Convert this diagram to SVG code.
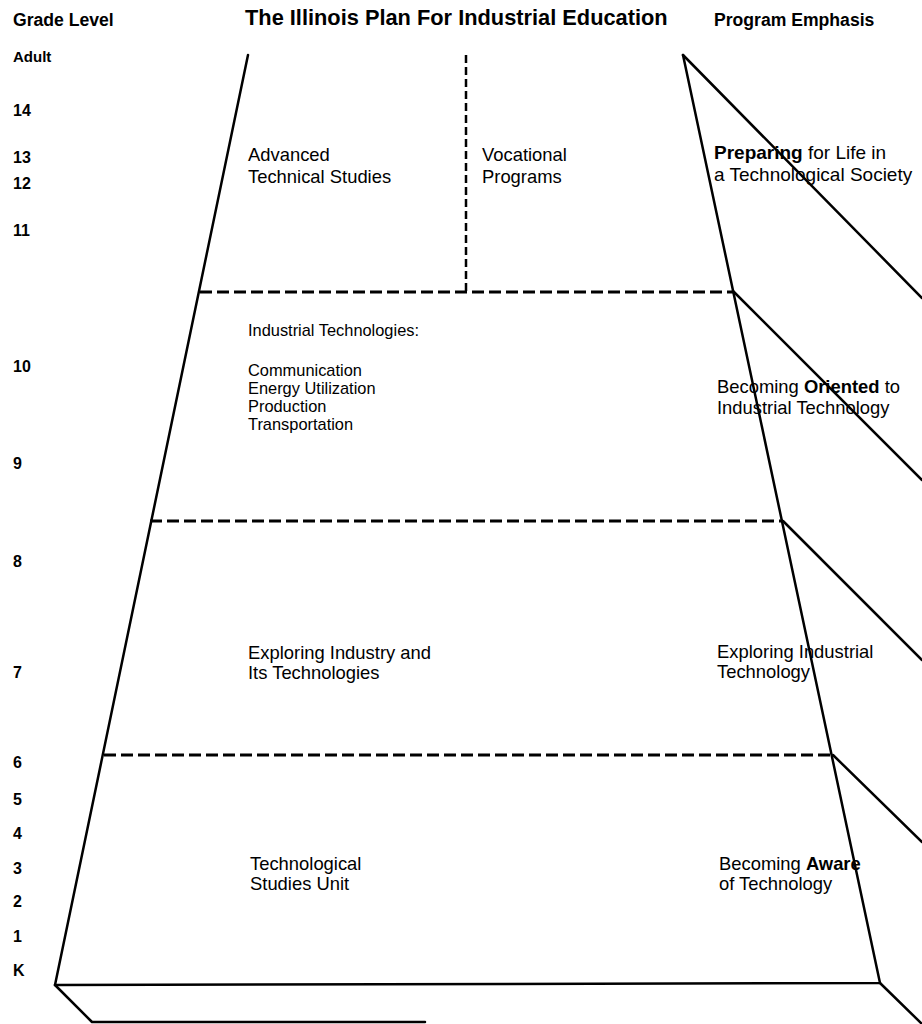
<svg xmlns="http://www.w3.org/2000/svg" width="922" height="1024" viewBox="0 0 922 1024">
<style>
text{font-family:"Liberation Sans",Arial,sans-serif;fill:#000}
.hd{font-weight:bold;font-size:17.6px}
.title{font-weight:bold;font-size:21.8px}
.gr{font-weight:bold;font-size:16px}
.ad{font-size:15px;font-weight:600}
.lb{font-size:18.4px}
.rb{font-size:19px}
.ls{font-size:16.4px}
.b{font-weight:bold}
.solid{stroke:#000;stroke-width:2.5;fill:none;stroke-linecap:round;stroke-linejoin:round}
.dash{stroke:#000;stroke-width:3;fill:none;stroke-dasharray:12 5}
.vdash{stroke:#000;stroke-width:2.5;fill:none;stroke-dasharray:8 4}
</style>
<rect width="922" height="1024" fill="#fff"/>
<g id="header">
<text class="hd" x="13" y="26">Grade Level</text>
<text class="title" x="245" y="25">The Illinois Plan For Industrial Education</text>
<text class="hd" x="714" y="26">Program Emphasis</text>
</g>
<g id="grade-levels">
<text class="ad" x="13" y="62">Adult</text>
<text class="gr" x="13" y="116">14</text>
<text class="gr" x="13" y="163">13</text>
<text class="gr" x="13" y="189">12</text>
<text class="gr" x="13" y="236">11</text>
<text class="gr" x="13" y="372">10</text>
<text class="gr" x="13" y="469">9</text>
<text class="gr" x="13" y="567">8</text>
<text class="gr" x="13" y="678">7</text>
<text class="gr" x="13" y="768">6</text>
<text class="gr" x="13" y="805">5</text>
<text class="gr" x="13" y="839">4</text>
<text class="gr" x="13" y="874">3</text>
<text class="gr" x="13" y="907">2</text>
<text class="gr" x="13" y="942">1</text>
<text class="gr" x="13" y="976">K</text>
</g>
<g id="connectors">
<path class="solid" d="M248 55 L55 985 L880 983 L683 55"/>
<path class="solid" d="M55 985 L92 1022 L425 1022"/>
<path class="solid" d="M683 55 L922 298"/>
<path class="solid" d="M733 291 L922 480"/>
<path class="solid" d="M783 521 L922 660"/>
<path class="solid" d="M833 755 L922 842"/>
<path class="solid" d="M880 983 L922 1024"/>
<path class="dash" d="M200 292 L733 292"/>
<path class="dash" d="M150 521 L783 521"/>
<path class="dash" d="M104 755 L833 755"/>
<path class="vdash" d="M466 55 L466 292"/>
</g>
<g id="advanced-technical-studies">
<text class="lb" x="248" y="161">Advanced</text>
<text class="lb" x="248" y="183">Technical Studies</text>
</g>
<g id="vocational-programs">
<text class="lb" x="482" y="161">Vocational</text>
<text class="lb" x="482" y="183">Programs</text>
</g>
<g id="preparing-for-life">
<text class="rb" x="714" y="159"><tspan class="b">Preparing</tspan> for Life in</text>
<text class="rb" x="714" y="181">a Technological Society</text>
</g>
<g id="industrial-technologies">
<text class="ls" x="248" y="336">Industrial Technologies:</text>
<text class="ls" x="248" y="376">Communication</text>
<text class="ls" x="248" y="394">Energy Utilization</text>
<text class="ls" x="248" y="412">Production</text>
<text class="ls" x="248" y="430">Transportation</text>
</g>
<g id="becoming-oriented">
<text class="lb" x="717" y="393">Becoming <tspan class="b">Oriented</tspan> to</text>
<text class="lb" x="717" y="414">Industrial Technology</text>
</g>
<g id="exploring-industry">
<text class="lb" x="248" y="659">Exploring Industry and</text>
<text class="lb" x="248" y="679">Its Technologies</text>
</g>
<g id="exploring-industrial-technology">
<text class="lb" x="717" y="658">Exploring Industrial</text>
<text class="lb" x="717" y="678">Technology</text>
</g>
<g id="technological-studies-unit">
<text class="lb" x="250" y="870">Technological</text>
<text class="lb" x="250" y="890">Studies Unit</text>
</g>
<g id="becoming-aware">
<text class="lb" x="719" y="870">Becoming <tspan class="b">Aware</tspan></text>
<text class="lb" x="719" y="890">of Technology</text>
</g>
</svg>
